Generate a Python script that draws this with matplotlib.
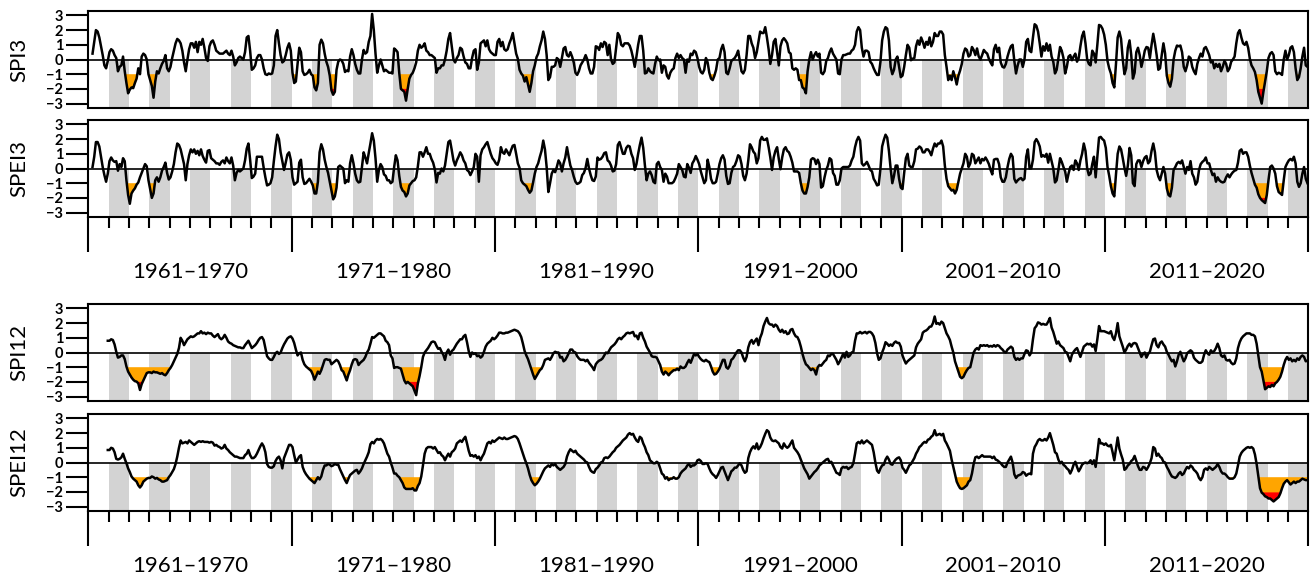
import numpy as np
import matplotlib.pyplot as plt
from matplotlib.transforms import blended_transform_factory

nan = np.nan

# monthly values, one row per year 1961..2020
spi3 = [
    nan, nan, 0.4, 1.2, 2.0, 1.9, 1.5, 0.9, 0.3, -0.4, -0.6, -0.1,
    0.5, 0.7, 0.6, 0.3, 0.1, -0.8, -0.5, -0.4, 0.2, -0.8, -1.6, -2.3,
    -2.05, -1.9, -1.95, -1.6, -1.3, -0.6, -1.0, 0.2, 0.4, 0.3, 0.0, -1.0,
    -1.4, -1.8, -2.6, -1.5, -0.8, -0.95, -0.6, -0.3, -0.1, 0.3, -0.6, -0.8,
    -0.5, 0.1, 0.6, 1.1, 1.4, 1.3, 1.1, 0.6, -0.2, -0.8, 0.0, 0.7,
    1.1, 1.1, 0.8, 1.2, 0.5, 1.2, 1.0, 1.4, 0.8, 0.1, -0.1, 0.9,
    1.2, 1.3, 1.0, 0.6, 0.5, 0.4, 0.4, 0.4, 0.5, 0.6, 0.4, 0.3,
    0.6, 0.2, -0.4, -0.2, 0.1, 0.2, 0.1, 0.0, 0.5, 1.5, 1.6, 0.6,
    -0.7, -0.6, -0.4, 0.1, 0.3, 0.3, 0.0, -0.6, -1.0, -1.05, -0.95, -1.0,
    -0.95, -0.4, 1.6, 2.0, 1.1, 0.3, -0.2, -0.1, 0.3, 0.8, 1.1, 0.6,
    -0.9, -1.6, -1.5, -0.3, 0.8, 0.5, -0.8, -1.05, -1.0, -0.9, -0.7, -1.0,
    -1.1, -1.9, -2.1, -1.6, 1.0, 1.35, 1.1, 0.4, -0.15, -0.5, -1.1, -2.1,
    -2.4, -2.2, -0.7, -0.15, 0.0, -0.05, -0.3, -0.85, -0.75, -0.8, 0.2, 0.7,
    0.3, -0.3, -0.7, -0.95, -0.95, 0.0, 0.65, 0.4, 0.5, 1.2, 1.6, 3.1,
    2.0, 0.4, -0.9, -0.4, 0.0, -0.4, -0.8, -0.7, -0.8, -0.9, -0.9, -0.95,
    0.75, 0.65, 0.5, -0.9, -2.0, -2.1, -2.2, -2.8, -2.0, -1.3, -1.05, -0.9,
    -0.6, -0.2, 0.6, 1.0, 0.8, 0.9, 1.1, 0.6, 0.5, 0.3, 0.3, 0.2,
    0.1, -0.9, -0.6, -0.6, -0.4, -0.4, 0.0, 0.6, 1.4, 1.8, 0.9, 0.0,
    -0.2, 0.1, 0.3, 0.8, 0.7, 0.2, -0.2, -0.3, -0.6, -0.6, 0.1, 0.6,
    0.7, -0.7, -0.2, 1.1, 1.2, 1.3, 0.9, 1.3, 0.7, 0.5, 0.4, 0.3,
    0.3, 1.2, 1.4, 0.9, 1.2, 0.7, 0.6, 0.7, 1.1, 1.4, 1.8, 1.1,
    0.4, 0.05, -0.7, -0.95, -1.1, -1.5, -1.2, -1.7, -2.2, -1.6, -0.8, -0.4,
    0.15, 0.4, 0.9, 1.3, 1.9, 1.4, 0.3, -1.4, -1.2, -0.5, -0.5, -0.4,
    0.1, 0.0, -0.5, 0.1, 0.75, 0.85, 0.3, 0.2, 0.5, 0.2, -0.2, -0.9,
    -1.05, -0.8, -0.4, -0.2, 0.0, 0.3, 0.0, -0.6, -0.95, -0.95, -0.5, 0.9,
    0.85, 0.65, 1.1, 0.85, 1.2, 1.1, 0.3, 1.0, 0.0, -0.3, -0.2, 0.8,
    1.8, 1.6, 1.0, 0.9, 1.1, 1.1, 1.1, 0.95, 0.6, 0.1, -0.5, 0.2,
    1.0, 1.6, 1.6, 0.6, -0.95, -0.9, -0.6, -0.8, -0.9, -0.95, -0.3, 0.2,
    -0.05, 0.0, -0.9, -0.4, -0.5, -1.1, -1.3, -0.9, -0.7, -0.6, 0.1, 0.4,
    0.1, 0.3, 0.1, 0.0, -0.9, 0.0, -0.15, 0.4, 0.3, 0.6, 0.5, 0.1,
    -0.5, -0.85, -0.95, -0.7, 0.1, -0.2, -0.9, -1.3, -1.4, -1.1, -0.7, 0.0,
    0.1, 0.7, 1.0, 0.5, -0.9, -1.0, -0.6, -0.1, 0.0, 0.1, 0.3, 0.6,
    -0.1, -0.8, -0.95, -0.7, 0.3, 1.6, 1.6, 1.1, 0.8, 0.1, 0.5, 1.2,
    1.9, 1.8, 1.8, 2.2, 1.5, 0.7, -0.3, 0.3, 1.2, 1.4, 0.5, -0.4,
    0.9, 1.3, 1.45, 1.3, 1.1, 0.5, 0.4, -0.6, -0.7, -0.6, -0.7, -1.4,
    -1.4, -1.9, -2.0, -2.3, -0.8, 0.0, 0.5, 0.0, 0.3, 0.5, 0.2, 0.4,
    -0.9, -1.0, -0.8, -0.1, 0.1, 0.5, 0.75, 0.4, 0.2, 0.0, -0.95, -1.0,
    0.0, 0.3, 0.3, 0.35, 0.4, 0.4, 0.6, 0.7, 1.0, 1.9, 2.2, 2.0,
    0.8, 0.2, 0.6, 0.6, 0.5, -0.15, -0.3, -0.6, -0.85, -1.05, -1.05, -0.15,
    1.3, 1.9, 2.2, 2.1, 1.3, -0.5, -1.0, -0.7, 0.0, 0.2, -0.5, -1.2,
    -1.1, -0.5, 0.3, 1.0, 0.8, -0.05, 0.05, 0.1, 0.9, 1.3, 1.0, 1.5,
    1.2, 0.8, 1.2, 1.0, 1.5, 0.9, 1.2, 1.8, 1.6, 1.6, 1.9, 1.9,
    1.7, 0.3, -0.5, -1.4, -1.1, -1.4, -0.8, -1.2, -1.7, -1.1, -0.75, -0.3,
    0.4, 0.75, 0.65, 0.2, 0.3, 0.85, 0.65, 0.3, 0.75, 0.2, 0.0, 0.3,
    0.65, 0.5, 0.4, 0.05, -0.2, -0.4, 0.7, 1.0, 0.5, 0.8, -0.2, -0.5,
    -0.55, -0.3, 0.2, 0.6, 0.9, 1.0, -0.1, -0.95, -0.4, 0.0, 0.0, -0.5,
    0.0, 1.2, 1.4, 0.6, 0.5, 1.5, 2.4, 2.3, 1.9, 1.1, 0.2, 0.9,
    0.6, 1.1, 0.6, 1.0, 0.2, -0.15, -0.95, -0.7, 0.1, 0.85, 0.6, 0.1,
    -0.95, -0.5, 0.2, 0.3, -0.05, 0.2, 0.4, -0.15, 0.1, 0.9, 1.6, 1.9,
    1.1, 0.0, -0.3, -0.4, 0.6, 0.4, -0.2, 1.0, 2.35, 2.3, 2.1, 1.7,
    1.0, -0.1, -0.6, -0.95, -1.6, -1.9, -0.3, 1.5, 1.9, 1.4, 0.0, -1.0,
    -0.6, 0.8, 1.3, 0.3, -1.3, -0.9, 0.5, 0.8, 0.3, -0.5, 0.0, 0.6,
    0.85, 0.8, 0.1, 1.0, 1.75, 1.1, 0.3, -0.7, -0.6, 0.3, 1.1, 0.4,
    -1.1, -1.6, -1.85, -1.3, 0.0, 0.6, 0.95, 0.9, 0.95, 0.5, -0.5, -0.8,
    -0.4, 0.2, 0.1, -0.5, -0.8, -1.0, -0.3, 0.1, 0.4, 0.2, 0.75, 0.85,
    0.6, 0.3, -0.2, -0.1, -0.6, -0.3, -0.5, -0.3, -0.8, -0.5, -0.1, -0.3,
    -0.8, -0.6, -0.15, 0.0, 0.2, 1.1, 1.8, 2.0, 1.5, 1.1, 1.0, 1.2,
    0.8, 0.05, -0.4, -0.6, -0.85, -1.4, -2.2, -2.6, -3.0, -2.2, -1.5, -0.8,
    0.1, 0.4, 0.5, 0.3, -0.8, -1.0, -0.9, -0.95, -1.05, 0.0, 0.6, 0.0,
    0.3, 0.8, 0.9, 0.5, -0.6, -1.4, -1.2, -0.6, 0.2, 0.8, -0.4, -0.5,
]

spei3 = [
    nan, nan, 0.1, 0.8, 1.8, 1.8, 1.5, 0.8, 0.1, -0.45, -0.9, -0.35,
    0.5, 0.75, 0.55, 0.45, 0.5, -0.15, 0.3, 0.1, 0.7, 0.5, -0.8, -1.8,
    -2.4, -1.7, -1.5, -1.35, -1.1, -0.95, -0.6, -0.3, 0.0, 0.3, 0.15, -0.8,
    -1.4, -2.0, -1.7, -0.8, -0.6, -0.9, -0.6, -0.15, 0.1, 0.4, -0.3, -0.75,
    -0.6, -0.2, 0.3, 1.1, 1.7, 1.6, 1.3, 0.8, 0.3, -0.8, 0.3, 0.9,
    1.3, 1.1, 1.3, 1.0, 1.2, 0.9, 1.3, 0.85, 0.6, 0.4, 1.2, 1.25,
    0.7, 0.6, 0.5, 0.35, 0.35, 0.25, 0.45, 0.55, 0.35, 0.75, 0.5, 0.35,
    0.75, 0.2, -0.8, -0.3, -0.1, -0.2, -0.1, 0.0, 0.55, 1.35, 1.7, 0.6,
    -0.65, -0.55, -0.35, 0.8, 0.8, 0.8, 0.8, 0.05, -0.6, -1.15, -1.1, -1.0,
    -0.6, 0.5, 1.5, 2.3, 2.0, 1.1, 0.5, -0.1, 0.4, 0.95, 1.1, 0.6,
    -0.6, -1.1, -1.0, -0.9, 0.4, 0.6, -0.6, -1.05, -1.0, -0.85, -0.7, -0.9,
    -1.15, -1.7, -1.7, -0.9, 1.1, 1.65, 1.3, 0.6, 0.1, -0.3, -0.9, -1.5,
    -2.1, -1.9, -1.3, 0.1, 0.2, 0.1, 0.0, -1.0, -0.8, -0.9, 0.35, 0.9,
    0.35, -0.35, -0.8, -0.95, -0.9, 0.1, 1.1, 0.75, 0.35, 1.05, 1.7, 2.4,
    1.9, 0.7, -0.9, -0.1, 0.3, 0.1, -0.4, -0.5, -0.8, -0.8, -1.0, -0.9,
    0.1, 0.9, 0.55, -0.5, -1.25, -1.5, -1.6, -1.9, -1.7, -1.15, -1.0, -0.85,
    -0.8, -0.6, 0.15, 1.1, 1.1, 0.8, 1.1, 1.45, 1.0, 1.0, 0.65, 0.4,
    -0.05, -0.95, -0.3, -0.35, 0.0, -0.2, 0.2, 1.0, 1.8, 1.9, 1.25, 0.55,
    0.2, 0.55, 0.8, 1.1, 0.9, 0.55, 0.35, -0.1, -0.2, -0.45, -0.2, 0.1,
    1.0, 0.8, -0.9, 0.9, 1.3, 1.45, 1.65, 1.8, 1.4, 1.0, 0.7, 0.55,
    0.35, 0.25, 0.6, 1.45, 1.1, 1.0, 1.3, 1.1, 0.9, 1.25, 1.55, 1.6,
    1.0, 0.35, 0.05, -0.8, -1.0, -1.1, -1.2, -1.45, -1.65, -1.5, -0.95, -0.35,
    0.1, 0.35, 0.8, 1.2, 1.9, 1.3, 0.1, -1.6, -1.0, -0.35, -0.1, -0.25,
    0.1, 0.55, 0.35, -0.2, 0.35, 0.75, 1.45, 0.8, 0.2, -0.1, -0.55, -0.9,
    -1.05, -1.0, -0.9, -0.45, -0.3, 0.05, 0.65, 0.0, -0.45, -0.8, -0.85, -0.55,
    0.75, 0.6, 0.65, 0.8, 1.05, 1.1, 0.55, 0.45, 0.2, -0.2, -0.15, 0.3,
    1.6, 1.8, 1.4, 1.0, 1.0, 1.4, 1.55, 1.5, 1.0, 0.7, -0.1, 0.3,
    1.0, 1.6, 2.1, 1.4, 0.2, -0.8, -0.35, -0.2, -0.45, -0.9, -1.0, 0.3,
    0.45, 0.1, -0.1, -0.9, -0.35, -0.55, -1.0, -1.0, -1.0, -0.9, -0.65, -0.35,
    0.3, 0.1, -0.1, -0.55, -0.6, 0.3, 0.05, -0.3, 0.35, 0.55, 0.85, 0.6,
    0.3, -0.2, -0.6, -1.0, -0.8, 0.6, 0.1, -0.7, -1.0, -1.0, -0.9, -0.35,
    0.3, 0.7, 0.9, 0.6, -0.5, -1.05, -1.0, -0.3, 0.1, 0.2, 0.5, 0.9,
    0.8, 0.3, -0.5, -0.8, -0.35, 0.55, 1.65, 1.45, 1.15, 1.0, 0.35, 0.7,
    1.9, 2.15, 1.95, 1.95, 2.05, 1.45, 0.75, -0.1, 0.75, 1.2, 1.45, 0.65,
    -0.05, 0.75, 1.3, 1.45, 1.2, 1.1, 0.8, 0.4, -0.2, -0.2, -0.2, -0.3,
    -1.0, -1.5, -1.7, -1.7, -1.25, -0.6, 0.6, 0.7, 0.65, 0.3, 0.6, 0.3,
    -1.3, -1.2, -0.6, -0.1, 0.2, 0.7, 0.6, -0.3, -0.5, -1.1, -1.1, -0.8,
    0.0, 0.1, 0.1, 0.1, 0.1, 0.2, 0.55, 0.8, 1.45, 1.9, 2.15, 1.9,
    0.35, 0.2, 0.3, 0.45, 0.2, -0.1, -0.2, -0.7, -0.9, -1.15, -1.1, 0.0,
    1.5, 1.95, 2.3, 2.1, 1.2, 0.0, -1.0, -0.5, 0.2, 0.2, -0.7, -1.3,
    -1.4, -0.3, 0.7, 1.0, 0.2, 0.1, 0.1, 0.5, 1.3, 1.35, 1.5, 1.4,
    1.1, 1.1, 1.3, 1.3, 1.15, 0.9, 1.35, 1.7, 1.5, 1.7, 1.7, 1.9,
    1.5, 0.2, -0.7, -1.2, -1.35, -1.5, -1.45, -1.7, -1.45, -0.9, -0.35, 0.0,
    0.35, 1.0, 0.8, 0.1, 0.35, 1.0, 0.9, 0.35, 0.55, 0.75, 0.35, 0.65,
    0.55, 0.75, 0.55, 0.3, -0.1, -0.4, 0.6, 0.65, 0.65, 0.3, -0.6, -0.9,
    -0.9, -0.6, 0.1, 0.65, 1.0, 0.8, -0.7, -0.95, -0.8, -0.7, -0.65, -0.8,
    -0.7, 0.8, 1.3, 0.0, 0.0, 0.6, 1.8, 2.0, 1.8, 1.5, 0.8, 0.9,
    0.8, 1.0, 0.4, 1.0, 0.5, 0.0, -0.95, -0.8, -0.1, 0.7, 0.45, 0.1,
    -0.2, -0.9, -0.35, 0.1, 0.2, -0.1, 0.55, 0.35, -0.1, 0.55, 1.0, 1.7,
    1.2, 0.0, -0.45, -0.35, 0.3, 0.8, -0.6, 0.8, 2.1, 2.15, 2.0, 1.9,
    1.4, 0.1, -0.5, -1.2, -1.7, -1.9, -0.4, 1.0, 1.5, 1.3, 0.7, 0.05,
    -0.5, 0.2, 1.4, 0.9, -1.0, -1.2, 0.3, 0.55, 0.55, 0.1, 0.5, 0.75,
    0.85, 0.35, 0.5, 1.2, 1.7, 1.1, -0.1, -0.55, -0.8, -0.35, 0.1, -0.35,
    -1.35, -1.8, -1.9, -1.3, -0.1, 0.1, 0.35, 0.45, 0.35, 0.55, 0.1, -0.35,
    0.1, -0.1, 0.5, -0.35, -0.6, -1.1, -0.9, -0.1, 0.3, 0.45, 0.55, 0.75,
    0.35, 0.35, -0.1, -0.45, -0.35, -0.9, -0.6, -0.8, -0.9, -0.95, -0.9, -0.6,
    -0.4, -0.6, -0.4, -0.25, -0.15, -0.1, 0.4, 1.2, 1.3, 1.0, 1.1, 1.1,
    0.8, 0.2, -0.3, -0.7, -1.1, -1.3, -1.75, -2.0, -2.15, -2.25, -2.35, -1.8,
    -0.8, 0.1, 0.2, 0.0, -0.35, -1.2, -1.6, -1.7, -1.8, -0.8, 0.1, 0.35,
    0.55, 0.65, 0.55, 0.8, 0.35, -0.9, -1.25, -1.0, -0.35, 0.1, -0.7, -1.0,
]

spi12 = [
    nan, nan, nan, nan, nan, nan, nan, nan, nan, nan, nan, 0.8,
    0.8, 0.9, 0.85, 0.55, 0.05, -0.35, -0.3, -0.2, -0.2, -0.45, -0.95, -1.3,
    -1.5, -1.7, -1.85, -1.95, -1.98, -2.1, -2.55, -2.15, -1.9, -1.65, -1.4, -1.35,
    -1.35, -1.4, -1.3, -1.35, -1.35, -1.4, -1.45, -1.4, -1.5, -1.55, -1.4, -1.2,
    -1.05, -0.85, -0.6, -0.35, -0.1, 0.3, 1.0, 0.8, 0.5, 0.7, 0.9, 1.0,
    1.1, 1.05, 1.1, 1.2, 1.3, 1.3, 1.45, 1.3, 1.35, 1.25, 1.35, 1.3,
    1.3, 1.15, 1.05, 1.15, 1.25, 1.0, 0.9, 1.0, 1.2, 1.0, 0.75, 0.65,
    0.6, 0.5, 0.45, 0.4, 0.35, 0.35, 0.3, 0.3, 0.5, 0.65, 0.8, 0.55,
    0.3, 0.4, 0.5, 0.65, 0.85, 1.0, 1.05, 0.85, 0.3, -0.25, -0.4, -0.5,
    -0.5, -0.3, -0.05, 0.05, -0.1, 0.0, 0.3, 0.55, 0.75, 0.95, 1.05, 1.1,
    0.95, 0.65, 0.2, -0.2, -0.05, 0.0, -0.5, -0.8, -0.95, -1.05, -1.15, -1.25,
    -1.5, -1.85, -1.6, -1.3, -1.45, -1.2, -0.85, -0.5, -0.45, -0.5, -0.5, -0.8,
    -0.7, -0.6, -0.5, -0.6, -0.85, -1.2, -1.3, -1.6, -1.9, -1.5, -1.2, -0.8,
    -0.5, -0.45, -0.5, -0.85, -0.7, -0.6, -0.5, -0.3, 0.0, 0.2, 0.6, 1.05,
    1.0, 1.1, 1.2, 1.3, 1.3, 1.2, 1.1, 0.8, 0.7, 0.5, -0.2, -0.4,
    -1.05, -1.0, -1.0, -1.05, -1.1, -1.5, -1.9, -2.1, -2.0, -2.1, -2.2, -2.3,
    -2.6, -2.9, -2.1, -1.6, -1.0, -0.3, 0.0, 0.15, 0.3, 0.5, 0.7, 0.75,
    0.7, 0.45, 0.25, 0.3, 0.05, -0.15, -0.5, 0.0, 0.2, -0.15, 0.1, 0.2,
    0.4, 0.6, 0.75, 0.9, 0.9, 1.1, 1.2, 0.7, 0.1, -0.3, 0.0, -0.1,
    -0.05, -0.25, -0.2, -0.35, -0.25, 0.05, 0.4, 0.6, 0.7, 0.8, 1.0, 0.9,
    1.0, 1.15, 1.35, 1.35, 1.3, 1.3, 1.35, 1.35, 1.4, 1.45, 1.5, 1.55,
    1.5, 1.45, 1.3, 1.05, 0.6, 0.1, -0.2, -0.45, -0.8, -1.15, -1.5, -1.8,
    -1.6, -1.4, -1.2, -1.1, -0.85, -0.5, -0.45, -0.4, -0.5, -0.3, -0.05, 0.05,
    0.0, 0.0, -0.35, -0.3, -0.6, -0.5, -0.3, -0.05, 0.2, 0.2, 0.05, 0.0,
    -0.25, -0.4, -0.5, -0.5, -0.5, -0.6, -0.5, -0.7, -0.85, -1.0, -1.2, -0.8,
    -0.65, -0.55, -0.5, -0.4, -0.2, 0.0, -0.05, 0.15, 0.35, 0.45, 0.55, 0.7,
    0.9, 1.0, 0.9, 1.05, 1.15, 1.3, 1.35, 1.3, 1.35, 1.4, 1.1, 1.15,
    0.9, 1.3, 1.35, 1.0, 0.75, 0.4, 0.2, 0.0, -0.25, -0.3, -0.3, -0.35,
    -0.6, -0.85, -1.3, -1.5, -1.3, -1.4, -1.55, -1.4, -1.3, -1.2, -1.2, -1.1,
    -1.2, -0.95, -1.05, -1.05, -0.95, -0.7, -0.5, -0.7, -0.4, -0.1, -0.2, -0.1,
    -0.3, -0.45, -0.55, -0.6, -0.5, -0.6, -0.65, -0.95, -1.3, -1.5, -1.45, -1.3,
    -1.1, -0.8, -0.5, -0.5, -1.0, -1.1, -0.9, -0.5, -0.4, -0.2, 0.0, 0.15,
    0.15, 0.0, -0.35, -0.6, -0.3, 0.35, 0.7, 0.85, 0.6, 0.8, 0.95, 0.5,
    1.0, 1.3, 1.8, 2.1, 2.35, 2.0, 1.9, 1.9, 1.75, 1.9, 1.8, 1.55,
    1.4, 1.55, 1.35, 1.45, 1.25, 1.3, 1.55, 1.6, 1.3, 1.1, 1.05, 0.8,
    0.4, -0.1, -0.5, -0.8, -0.9, -1.05, -1.2, -1.1, -1.2, -1.5, -1.0, -0.85,
    -0.9, -0.75, -0.6, -0.5, -0.2, -0.25, -0.1, -0.1, -0.3, -0.5, -0.8, -0.6,
    -0.35, -0.1, -0.35, 0.05, -0.3, -0.2, 0.0, 0.05, 0.8, 1.3, 1.3, 1.4,
    1.3, 1.35, 1.4, 1.3, 1.4, 1.4, 1.3, 1.1, 0.65, -0.05, -0.5, -0.4,
    0.0, 0.3, 0.7, 0.6, 0.45, 0.55, 0.45, 0.65, 0.75, 0.65, 0.65, 0.4,
    -0.2, -0.5, -0.75, -0.6, -0.5, -0.4, -0.3, -0.2, 0.35, 0.6, 0.75, 0.9,
    1.35, 1.45, 1.5, 1.6, 1.75, 1.77, 2.0, 2.45, 1.95, 2.0, 1.9, 2.1,
    2.0, 1.65, 1.3, 1.1, 0.85, 0.4, 0.0, -0.6, -0.95, -1.3, -1.65, -1.75,
    -1.65, -1.4, -1.2, -1.05, -1.0, -0.5, 0.0, 0.2, 0.3, 0.2, 0.5, 0.45,
    0.5, 0.45, 0.5, 0.4, 0.45, 0.4, 0.5, 0.4, 0.5, 0.45, 0.3, 0.2,
    0.05, 0.0, 0.2, 0.3, 0.4, 0.3, -0.3, -0.5, -0.4, -0.5, -0.4, -0.4,
    -0.1, 0.15, 0.1, -0.2, 0.0, 0.9, 1.65, 1.8, 2.05, 2.0, 1.9, 1.95,
    1.9, 1.9, 2.1, 2.35, 1.7, 1.4, 1.0, 0.6, 0.75, 0.5, 0.4, 0.3,
    0.05, 0.0, -0.3, -0.6, -0.15, 0.05, 0.2, 0.3, 0.0, -0.3, 0.05, 0.4,
    0.5, 0.6, 0.55, 0.6, 0.4, 0.55, 0.1, 0.9, 1.8, 1.45, 1.45, 1.45,
    1.4, 1.35, 1.3, 1.45, 1.05, 0.85, 1.3, 2.0, 1.1, 0.75, 0.4, 0.0,
    0.2, 0.45, 0.6, 0.4, 0.6, 0.65, 0.6, 0.3, 0.0, -0.3, -0.1, 0.0,
    -0.35, -0.1, 0.05, 0.5, 0.9, 0.95, 0.5, 0.35, 0.65, 0.75, 0.55, 0.4,
    0.05, -0.15, -0.4, -0.6, -0.5, -0.95, -0.6, -0.15, 0.05, -0.3, -0.6, -0.4,
    -0.05, 0.05, 0.15, 0.05, -0.35, -0.5, -0.6, -0.7, -0.7, -0.6, -0.15, 0.15,
    -0.05, -0.15, 0.15, 0.0, 0.1, 0.3, 0.6, 0.3, -0.2, -0.3, -0.2, -0.5,
    -0.55, -0.5, -0.7, -0.8, -0.75, -0.4, 0.3, 0.7, 0.95, 1.1, 1.2, 1.3,
    1.3, 1.3, 1.2, 1.2, 1.1, 0.6, -0.2, -1.0, -1.3, -1.9, -2.5, -2.4,
    -2.3, -2.35, -2.2, -2.3, -2.1, -2.0, -1.85, -1.65, -1.3, -0.85, -0.5, -0.3,
    -0.5, -0.4, -0.6, -0.5, -0.6, -0.4, -0.5, -0.3, -0.2, -0.3, -0.6, -0.55,
]

spei12 = [
    nan, nan, nan, nan, nan, nan, nan, nan, nan, nan, nan, 0.85,
    0.85, 1.0, 0.95, 0.7, 0.25, 0.2, 0.25, 0.35, 0.6, 0.25, -0.05, -0.4,
    -0.65, -0.95, -1.1, -1.2, -1.3, -1.55, -1.7, -1.55, -1.3, -1.2, -1.1, -1.05,
    -1.05, -0.95, -1.0, -1.1, -1.05, -1.15, -1.2, -1.3, -1.3, -1.25, -1.2, -1.0,
    -0.85, -0.65, -0.45, -0.1, 0.4, 1.0, 1.5, 1.3, 1.35, 1.4, 1.3, 1.5,
    1.4, 1.3, 1.2, 1.3, 1.4, 1.45, 1.4, 1.45, 1.4, 1.4, 1.4, 1.35,
    1.4, 1.35, 1.15, 1.2, 1.1, 1.05, 0.95, 1.0, 1.2, 0.95, 0.85, 0.7,
    0.6, 0.5, 0.4, 0.4, 0.35, 0.3, 0.3, 0.3, 0.5, 0.6, 0.85, 0.5,
    0.3, 0.3, 0.4, 0.6, 0.85, 1.1, 1.3, 1.1, 0.7, -0.1, -0.3, -0.35,
    -0.35, -0.25, 0.1, 0.3, 0.4, 0.15, -0.4, 0.3, 0.6, 0.9, 1.2, 1.2,
    1.05, 0.5, 0.0, 0.2, 0.4, 0.5, -0.3, -0.6, -0.8, -0.95, -1.1, -1.2,
    -1.3, -1.4, -1.2, -1.0, -1.15, -0.95, -0.5, -0.2, -0.2, -0.1, -0.15, -0.25,
    -0.2, -0.1, -0.15, -0.15, -0.45, -0.7, -0.95, -1.2, -1.4, -1.1, -0.85, -0.75,
    -0.65, -0.55, -0.5, -0.75, -0.6, -0.4, -0.1, 0.15, 0.4, 0.7, 1.25, 1.4,
    1.3, 1.5, 1.6, 1.55, 1.6, 1.5, 1.3, 0.95, 0.6, 0.4, 0.0, -0.35,
    -0.75, -0.75, -0.9, -1.0, -1.2, -1.4, -1.7, -1.8, -1.8, -1.8, -1.8, -1.75,
    -1.9, -1.9, -1.6, -1.4, -0.95, -0.2, 0.6, 0.95, 1.05, 1.05, 1.05, 0.95,
    1.05, 0.85, 0.65, 0.7, 0.5, 0.4, 0.15, 0.4, 0.6, 0.4, 0.7, 0.8,
    0.95, 1.3, 1.4, 1.5, 1.4, 1.6, 1.75, 1.3, 0.8, 0.45, 0.5, 0.4,
    0.5, 0.3, 0.4, 0.15, 0.4, 0.6, 0.95, 1.3, 1.4, 1.3, 1.5, 1.4,
    1.5, 1.6, 1.7, 1.65, 1.6, 1.7, 1.6, 1.6, 1.65, 1.7, 1.75, 1.8,
    1.75, 1.6, 1.3, 0.95, 0.6, 0.25, -0.05, -0.4, -0.85, -1.2, -1.4, -1.55,
    -1.45, -1.3, -1.1, -0.85, -0.6, -0.4, -0.3, -0.2, -0.3, -0.1, -0.2, -0.1,
    -0.3, -0.4, -0.5, -0.4, -0.3, -0.1, 0.4, 0.7, 0.9, 0.8, 0.7, 0.8,
    0.6, 0.5, 0.4, 0.3, 0.2, 0.05, 0.0, -0.3, -0.55, -0.65, -0.7, -0.45,
    -0.35, -0.2, 0.0, 0.05, 0.3, 0.35, 0.3, 0.4, 0.55, 0.7, 0.8, 1.0,
    1.1, 1.2, 1.35, 1.5, 1.6, 1.7, 1.9, 2.0, 1.9, 1.95, 1.7, 1.5,
    1.4, 1.75, 1.65, 1.3, 1.05, 0.7, 0.5, 0.15, 0.05, -0.05, -0.05, 0.05,
    -0.05, -0.4, -0.75, -0.85, -1.1, -1.0, -1.2, -1.1, -1.1, -1.0, -1.1, -1.1,
    -1.0, -0.75, -0.6, -0.5, -0.4, -0.2, -0.1, -0.3, -0.2, -0.2, -0.1, 0.15,
    0.2, 0.1, -0.1, -0.1, -0.05, -0.1, -0.4, -0.65, -0.8, -0.9, -1.05, -0.85,
    -0.6, -0.35, -0.3, -0.6, -0.9, -1.2, -0.9, -0.6, -0.5, -0.35, -0.35, -0.2,
    -0.05, -0.2, -0.5, -0.7, -0.6, 0.3, 0.7, 0.95, 1.1, 0.95, 1.3, 0.9,
    1.05, 1.3, 1.65, 1.95, 2.2, 2.1, 1.7, 1.5, 1.45, 1.5, 1.4, 1.3,
    1.05, 0.95, 1.3, 1.1, 1.0, 1.1, 1.3, 1.5, 1.0, 0.85, 0.7, 0.5,
    0.2, -0.1, -0.4, -0.6, -0.8, -1.1, -0.95, -0.8, -0.65, -0.55, -0.4, -0.2,
    -0.1, 0.0, 0.1, 0.2, 0.25, 0.0, 0.05, -0.2, -0.45, -0.7, -0.75, -0.85,
    -0.4, -0.3, -0.35, -0.3, -0.45, -0.35, -0.3, -0.05, 0.6, 1.3, 1.4, 1.3,
    1.5, 1.3, 1.4, 1.5, 1.4, 1.3, 1.2, 0.7, 0.0, -0.55, -0.7, -0.4,
    -0.2, -0.15, 0.2, 0.4, 0.2, -0.1, -0.15, 0.05, 0.2, 0.3, 0.35, 0.15,
    -0.35, -0.5, -0.7, -0.45, -0.2, -0.1, 0.1, 0.3, 0.6, 0.8, 1.05, 1.15,
    1.3, 1.4, 1.35, 1.55, 1.6, 1.75, 1.85, 2.2, 1.85, 1.9, 1.95, 1.85,
    1.95, 1.5, 1.3, 1.05, 0.8, 0.2, -0.3, -0.8, -1.3, -1.55, -1.75, -1.8,
    -1.75, -1.65, -1.55, -1.3, -1.2, -0.75, -0.1, 0.35, 0.4, 0.3, 0.4, 0.5,
    0.4, 0.4, 0.4, 0.4, 0.4, 0.3, 0.4, 0.2, 0.15, 0.05, -0.05, -0.2,
    -0.3, -0.3, 0.0, 0.2, 0.4, 0.0, -0.8, -1.05, -0.9, -0.85, -0.8, -0.65,
    -0.7, -0.9, -0.8, -0.75, -0.8, 0.6, 1.05, 1.25, 1.5, 1.6, 1.5, 1.5,
    1.6, 1.5, 1.7, 2.0, 1.6, 1.2, 0.7, 0.6, 0.2, -0.05, 0.05, -0.15,
    -0.25, -0.4, -0.5, -0.75, -0.5, -0.15, 0.05, -0.3, -0.6, -0.4, -0.15, -0.05,
    0.0, -0.05, 0.0, 0.15, -0.1, 0.15, -0.3, 0.6, 1.6, 1.3, 1.3, 1.2,
    1.3, 1.15, 1.1, 1.2, 0.7, 0.15, 0.95, 1.7, 0.95, 0.55, 0.2, -0.5,
    -0.4, -0.2, -0.1, 0.1, 0.2, 0.45, 0.1, -0.25, -0.5, -0.5, -0.3, -0.35,
    -0.5, -0.3, -0.05, 0.3, 1.05, 0.95, 0.45, 0.6, 0.4, 0.3, 0.05, 0.0,
    -0.3, -0.5, -0.75, -0.95, -1.0, -1.05, -0.95, -0.75, -0.65, -0.85, -0.75, -0.5,
    -0.3, -0.4, -0.2, -0.3, -0.5, -0.6, -0.75, -1.05, -1.2, -1.0, -0.5, -0.4,
    -0.5, -0.3, -0.4, -0.5, -0.4, -0.3, -0.1, -0.3, -0.6, -0.75, -0.75, -0.85,
    -1.0, -1.1, -1.1, -1.1, -1.0, -0.75, -0.2, 0.4, 0.65, 0.8, 0.9, 1.0,
    1.05, 1.0, 1.05, 0.95, 0.55, -0.1, -0.9, -1.75, -2.05, -2.15, -2.3, -2.35,
    -2.45, -2.45, -2.55, -2.65, -2.55, -2.45, -2.35, -2.1, -1.75, -1.45, -1.3, -1.2,
    -1.35, -1.5, -1.4, -1.3, -1.4, -1.3, -1.3, -1.2, -1.1, -1.15, -1.2, -1.2,
]

labels = ["SPI3", "SPEI3", "SPI12", "SPEI12"]
decades = ["1961–1970", "1971–1980", "1981–1990", "1991–2000", "2001–2010", "2011–2020"]
decade_mid = [1966, 1976, 1986, 1996, 2006, 2016]
grey_years = np.arange(1962, 2021, 2)

months = 1961 + (np.arange(720) + 0.5) / 12

plt.rcParams['font.family'] = ['Lato', 'DejaVu Sans']

W, H = 1311, 580
fig = plt.figure(figsize=(W / 100, H / 100), dpi=100)

# panel top/bottom in pixels
rows = [(11, 108), (120, 217), (304, 401), (414, 511)]
series = [spi3, spei3, spi12, spei12]

for i, (top, bottom) in enumerate(rows):
    ax = fig.add_axes([88.3 / W, 1 - bottom / H, 1220 / W, (bottom - top) / H])
    y = np.array(series[i], dtype=float)

    # grey bars for every other year, below zero
    ax.bar(grey_years, 3.3, bottom=-3.3, width=1, align='edge',
           color='#d3d3d3', linewidth=0, zorder=0)
    ax.fill_between(months, -1, y, where=y < -1, interpolate=True,
                    color='#ffa500', linewidth=0, zorder=1)
    ax.fill_between(months, -2, y, where=y < -2, interpolate=True,
                    color='#ff0000', linewidth=0, zorder=2)
    ax.axhline(0, color='black', lw=1.2, zorder=3)
    ax.plot(months, y, color='black', lw=1.8, zorder=4)

    ax.set_xlim(1961, 2021)
    ax.set_ylim(-3.3, 3.3)
    ax.set_yticks(range(-3, 4))
    ax.tick_params(axis='y', length=16, width=1.5, pad=2, labelsize=10.5)
    plt.setp(ax.get_yticklabels(), fontweight='bold')
    for s in ax.spines.values():
        s.set_linewidth(1.5)

    if i % 2 == 1:
        ax.set_xticks(np.arange(1961, 2022, 10))
        ax.set_xticks(np.arange(1961, 2021), minor=True)
        ax.tick_params(axis='x', which='major', length=25, width=1.5, labelbottom=False)
        ax.tick_params(axis='x', which='minor', length=8, width=1.5)
        tr = blended_transform_factory(ax.transData, ax.transAxes)
        for lab, m in zip(decades, decade_mid):
            ax.text(m, -0.57, lab, transform=tr, ha='center', va='center', fontsize=16)
    else:
        ax.tick_params(axis='x', which='both', bottom=False, labelbottom=False)

    fig.text(19 / W, 1 - (top + bottom) / 2 / H, labels[i], rotation=90,
             ha='center', va='center', fontsize=16)

fig.savefig('out.png', dpi=100)
